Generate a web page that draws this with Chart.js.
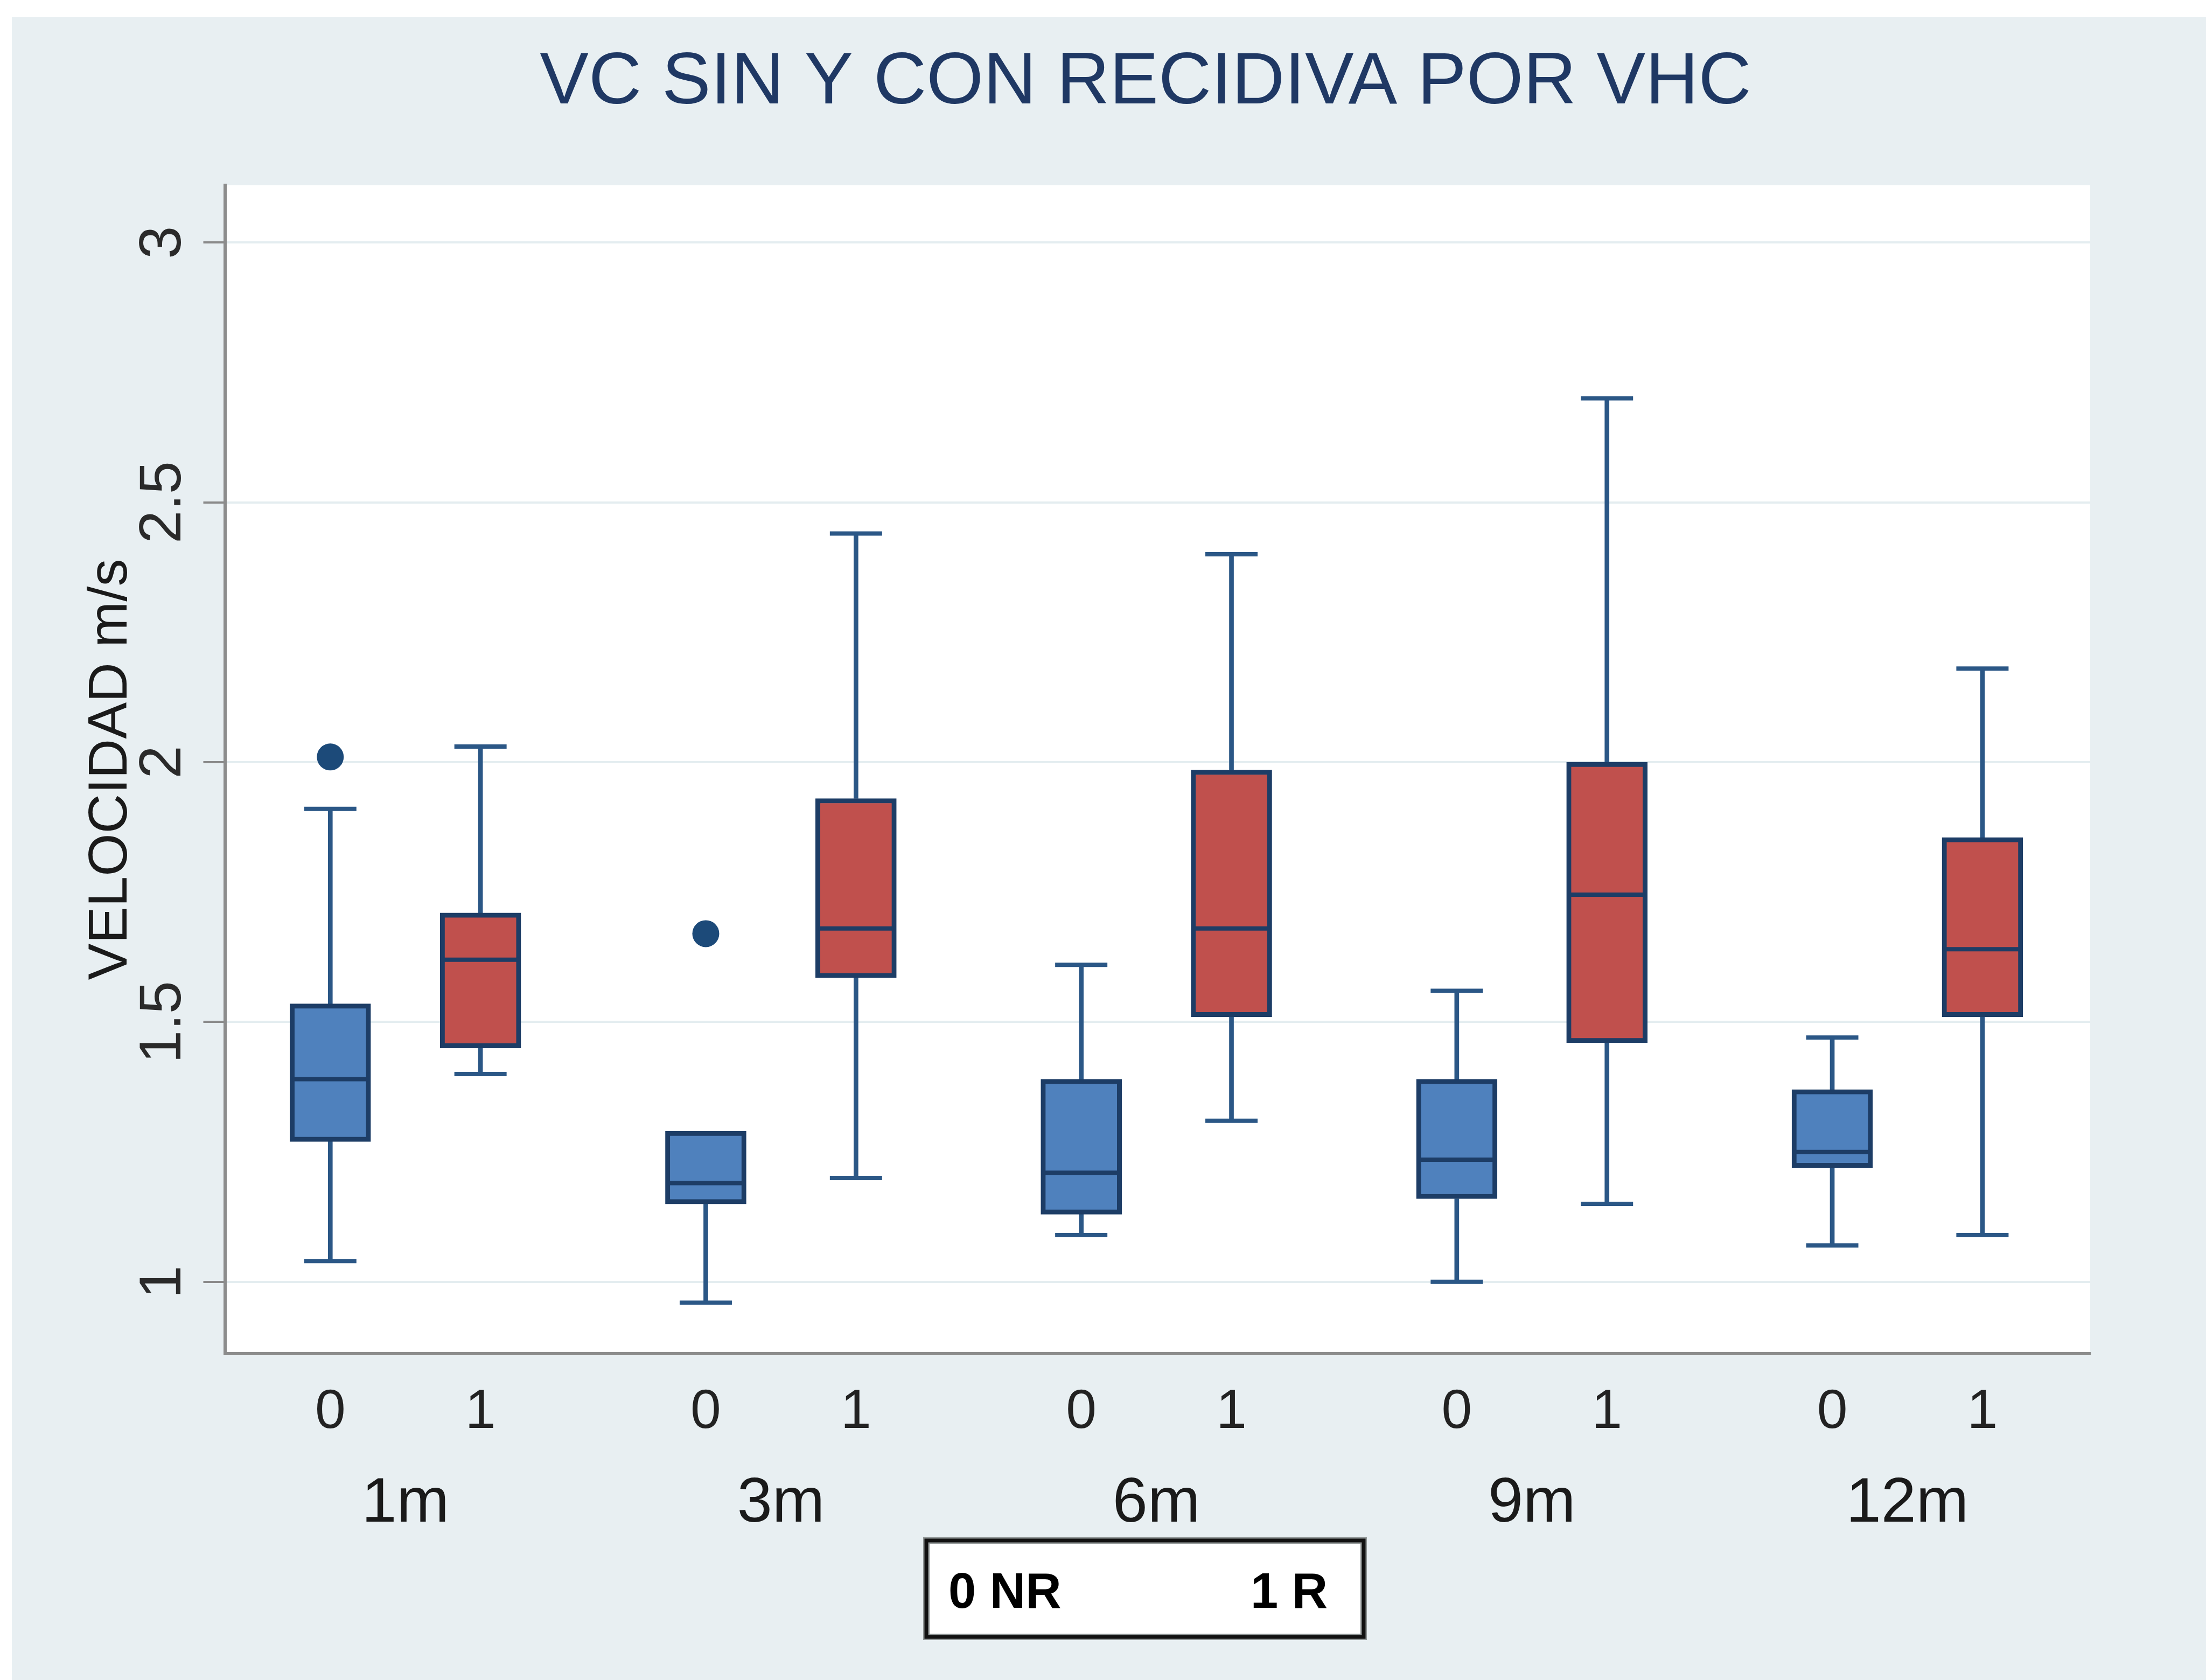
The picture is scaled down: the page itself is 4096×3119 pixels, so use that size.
<!DOCTYPE html>
<html>
<head>
<meta charset="utf-8">
<style>
html,body{margin:0;padding:0;background:#ffffff;}
canvas{display:block;}
</style>
<script src="https://cdn.jsdelivr.net/npm/chart.js@4.4.1/dist/chart.umd.min.js"></script>
</head>
<body>
<canvas id="chart" width="4096" height="3119" style="width:4096px;height:3119px"></canvas>
<script>
// ---------------- DATA ----------------
const titleText = 'VC SIN Y CON RECIDIVA POR VHC';
const yAxisTitle = 'VELOCIDAD m/s';
const categories = ['1m', '3m', '6m', '9m', '12m'];
const groupCodes = ['0', '1'];
const legendLabels = ['0 NR', '1 R'];
const yTicks = [1, 1.5, 2, 2.5, 3];

// group 0 (NR, blue)
const nrMin    = [1.04, 0.96, 1.09, 1.00, 1.07];
const nrQ1     = [1.27, 1.15, 1.13, 1.16, 1.22];
const nrMedian = [1.39, 1.19, 1.21, 1.235, 1.25];
const nrQ3     = [1.535, 1.29, 1.39, 1.39, 1.37];
const nrMax    = [1.91, 1.29, 1.61, 1.56, 1.47];
const nrOutliers = [[2.01], [1.67], [], [], []];

// group 1 (R, red)
const rMin    = [1.40, 1.20, 1.31, 1.15, 1.09];
const rQ1     = [1.45, 1.585, 1.51, 1.46, 1.51];
const rMedian = [1.62, 1.68, 1.68, 1.745, 1.64];
const rQ3     = [1.71, 1.93, 1.985, 2.00, 1.855];
const rMax    = [2.03, 2.44, 2.40, 2.70, 2.18];
const rOutliers = [[], [], [], [], []];

// ---------------- STYLE ----------------
const FONT = '"Liberation Sans", Arial, Helvetica, sans-serif';
const NR_FILL = '#4f81bd';
const R_FILL = '#c0504d';
const BOX_EDGE = '#1d3d66';
const WHISK = '#2b5786';
const OUT_COLOR = '#1c4a79';
const PAIR_OFFSET = 0.2;

const xPos = (g, s) => g + (s ? PAIR_OFFSET : -PAIR_OFFSET);
const rangeData = (lo, hi, s) => lo.map((v, g) => ({x: xPos(g, s), y: [v, hi[g]]}));
const outlierData = (lists, s) => lists.flatMap((arr, g) => arr.map(v => ({x: xPos(g, s), y: v})));
// whisker cap points only where a whisker exists
const capData = (ends, edges, s) => ends.map((v, g) => ({x: xPos(g, s), y: v})).filter((d, g) => d.y !== edges[g]);
const pointData = (vals, s) => vals.map((v, g) => ({x: xPos(g, s), y: v}));

const lowerWhiskers = [...rangeData(nrMin, nrQ1, 0), ...rangeData(rMin, rQ1, 1)].filter(d => d.y[1] > d.y[0]);
const upperWhiskers = [...rangeData(nrQ3, nrMax, 0), ...rangeData(rQ3, rMax, 1)].filter(d => d.y[1] > d.y[0]);
const caps = [...capData(nrMin, nrQ1, 0), ...capData(nrMax, nrQ3, 0), ...capData(rMin, rQ1, 1), ...capData(rMax, rQ3, 1)];
const medians = [...pointData(nrMedian, 0), ...pointData(rMedian, 1)];
const outliers = [...outlierData(nrOutliers, 0), ...outlierData(rOutliers, 1)];

const xTickValues = [];
categories.forEach((c, g) => { xTickValues.push(xPos(g, 0)); xTickValues.push(xPos(g, 1)); });

const X_MIN = -0.4808, X_MAX = 4.487;

const framePlugin = {
  id: 'frame',
  beforeDraw(chart) {
    const {ctx, chartArea: a} = chart;
    ctx.save();
    ctx.fillStyle = '#ffffff';
    ctx.fillRect(0, 0, chart.width, chart.height);
    ctx.fillStyle = '#e8eff2';
    ctx.fillRect(22, 32, chart.width - 22, chart.height - 32);
    ctx.fillStyle = '#ffffff';
    ctx.fillRect(a.left, a.top, a.right - a.left, a.bottom - a.top);
    ctx.restore();
  },
  afterDraw(chart) {
    const ctx = chart.ctx;
    ctx.save();
    // title
    ctx.fillStyle = '#1f3864';
    ctx.font = '136px ' + FONT;
    ctx.textAlign = 'center';
    ctx.textBaseline = 'alphabetic';
    ctx.fillText(titleText, 2127, 192);
    // legend box
    const lx = 1715, ly = 2855, lw = 822, lh = 189;
    ctx.fillStyle = '#ffffff';
    ctx.fillRect(lx, ly, lw, lh);
    ctx.strokeStyle = '#8f9595';
    ctx.lineWidth = 12;
    ctx.strokeRect(lx + 5, ly + 5, lw - 10, lh - 10);
    ctx.strokeStyle = '#111111';
    ctx.lineWidth = 7;
    ctx.strokeRect(lx + 5, ly + 5, lw - 10, lh - 10);
    ctx.fillStyle = '#000000';
    ctx.font = 'bold 92px ' + FONT;
    ctx.textAlign = 'left';
    ctx.fillText(legendLabels[0], 1761, 2985);
    ctx.fillText(legendLabels[1], 2322, 2985);
    ctx.restore();
  }
};

const barCommon = {type: 'bar', grouped: false, barPercentage: 1, categoryPercentage: 1, borderSkipped: false};

new Chart(document.getElementById('chart'), {
  type: 'bar',
  data: {
    datasets: [
      Object.assign({}, barCommon, {label: 'lower whiskers', data: lowerWhiskers, backgroundColor: WHISK, borderWidth: 0, maxBarThickness: 8, order: 10}),
      Object.assign({}, barCommon, {label: 'upper whiskers', data: upperWhiskers, backgroundColor: WHISK, borderWidth: 0, maxBarThickness: 8, order: 10}),
      {type: 'scatter', label: 'caps', data: caps, pointStyle: 'line', pointRadius: 48.5, pointBorderWidth: 8, pointBorderColor: WHISK, pointBackgroundColor: WHISK, order: 7},
      Object.assign({}, barCommon, {label: legendLabels[0], data: rangeData(nrQ1, nrQ3, 0), backgroundColor: NR_FILL, borderColor: BOX_EDGE, borderWidth: 9, maxBarThickness: 150, order: 5}),
      Object.assign({}, barCommon, {label: legendLabels[1], data: rangeData(rQ1, rQ3, 1), backgroundColor: R_FILL, borderColor: BOX_EDGE, borderWidth: 9, maxBarThickness: 150, order: 5}),
      {type: 'scatter', label: 'medians', data: medians, pointStyle: 'line', pointRadius: 70, pointBorderWidth: 8, pointBorderColor: BOX_EDGE, pointBackgroundColor: BOX_EDGE, order: 2},
      {type: 'scatter', label: 'outliers', data: outliers, pointStyle: 'circle', pointRadius: 25, pointBorderWidth: 0, pointBackgroundColor: OUT_COLOR, pointBorderColor: OUT_COLOR, order: 1}
    ]
  },
  options: {
    responsive: false,
    devicePixelRatio: 1,
    animation: false,
    events: [],
    layout: {padding: {left: 60, right: 215, top: 344, bottom: 256}},
    plugins: {legend: {display: false}, tooltip: {enabled: false}, title: {display: false}},
    scales: {
      x: {
        type: 'linear', position: 'bottom', min: X_MIN, max: X_MAX, offset: false, weight: 0,
        afterBuildTicks: s => { s.ticks = xTickValues.map(v => ({value: v})); },
        afterFit: s => { s.height = 150; },
        grid: {display: false, drawTicks: false, offset: false},
        border: {display: true, color: '#8c8c8c', width: 6},
        ticks: {autoSkip: false, minRotation: 0, maxRotation: 0, padding: 49, color: '#222222',
          font: {size: 102, family: FONT}, callback: (v, i) => groupCodes[i % 2]}
      },
      x2: {
        type: 'linear', position: 'bottom', min: X_MIN, max: X_MAX, offset: false, weight: 1,
        afterBuildTicks: s => { s.ticks = categories.map((c, i) => ({value: i})); },
        afterFit: s => { s.height = 200; },
        grid: {display: false, drawTicks: false, offset: false},
        border: {display: false},
        ticks: {autoSkip: false, minRotation: 0, maxRotation: 0, padding: 60, color: '#1a1a1a',
          font: {size: 117, family: FONT}, callback: (v, i) => categories[i]}
      },
      y: {
        type: 'linear', position: 'left', min: 0.862, max: 3.11,
        afterBuildTicks: s => { s.ticks = yTicks.map(v => ({value: v})); },
        afterFit: s => { s.width = 357.5; },
        grid: {color: '#e4edf0', lineWidth: 4, drawTicks: true, tickLength: 40, tickColor: '#8a8a8a', tickWidth: 4},
        border: {display: true, color: '#8c8c8c', width: 6},
        ticks: {autoSkip: false, minRotation: 90, maxRotation: 90, crossAlign: 'center', padding: -4,
          color: '#2a2a2a', font: {size: 110, family: FONT}, callback: v => String(v)},
        title: {display: true, text: yAxisTitle, color: '#1a1a1a', font: {size: 102, family: FONT},
          padding: {top: 86, bottom: 0}}
      }
    }
  },
  plugins: [framePlugin]
});
</script>
</body>
</html>
